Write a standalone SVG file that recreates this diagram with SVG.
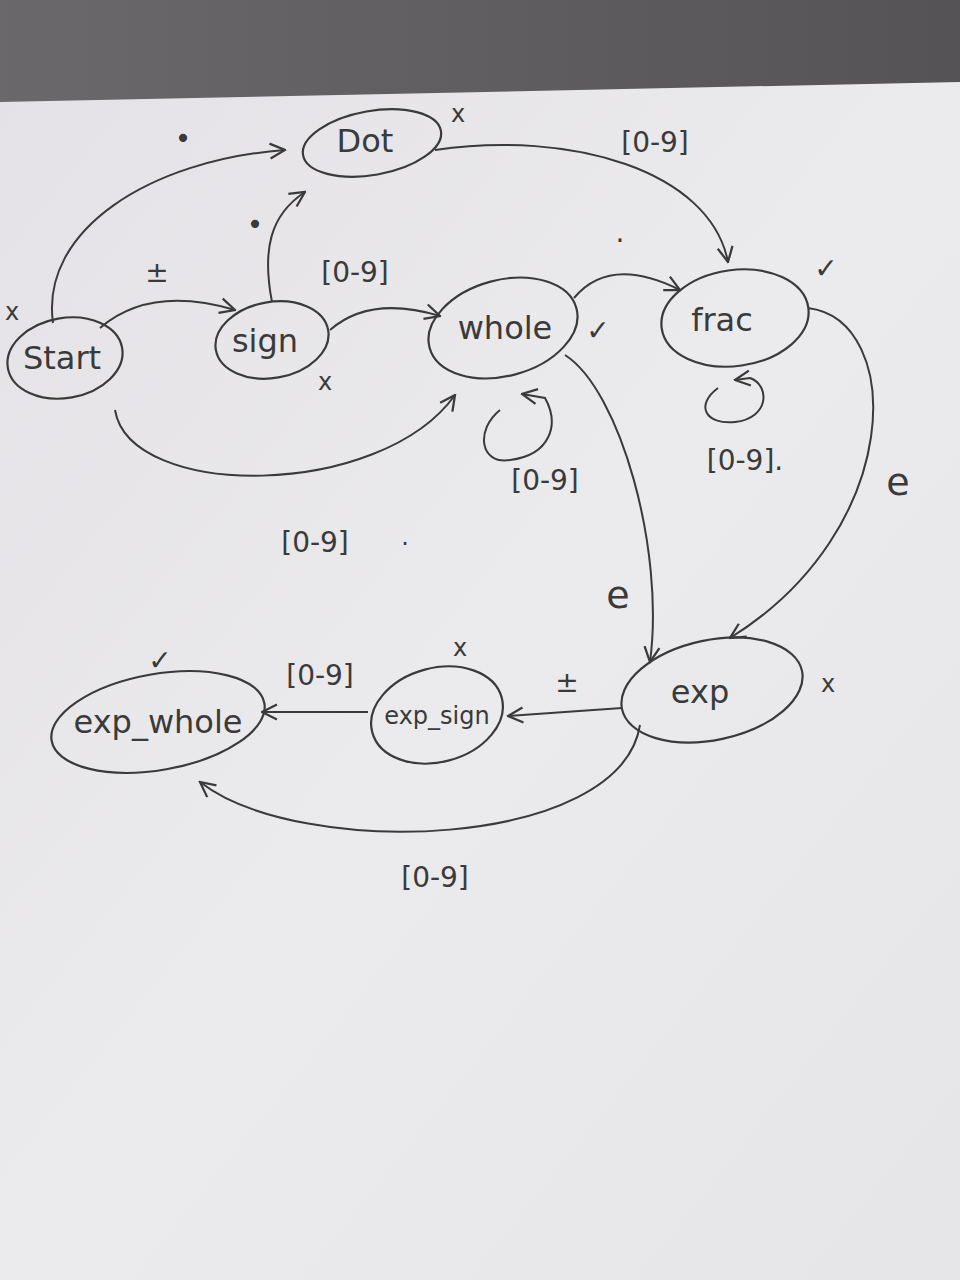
<svg xmlns="http://www.w3.org/2000/svg" width="960" height="1280" viewBox="0 0 960 1280">
<defs>
<linearGradient id="paper" x1="0" y1="0" x2="1" y2="1">
<stop offset="0" stop-color="#e4e2e6"/>
<stop offset="0.5" stop-color="#ebeaec"/>
<stop offset="1" stop-color="#e6e5e7"/>
</linearGradient>
<linearGradient id="top" x1="0" y1="0" x2="1" y2="0">
<stop offset="0" stop-color="#6a686a"/>
<stop offset="1" stop-color="#555355"/>
</linearGradient>
<marker id="arr" viewBox="0 0 12 12" refX="11" refY="6" markerWidth="18" markerHeight="18" markerUnits="userSpaceOnUse" orient="auto">
<path d="M1,1 L11,6 L1,11" fill="none" stroke="#3a3a3a" stroke-width="1.5"/>
</marker>
</defs>
<style>
.n{fill:none;stroke:#3a3a3a;stroke-width:2.2}
.e{fill:none;stroke:#3a3a3a;stroke-width:2;marker-end:url(#arr)}
.t{font-family:"DejaVu Sans",sans-serif;fill:#3a3a3a;text-anchor:middle}
.nl{font-size:32px}
.l{font-size:28px}
.m{font-size:24px}
.big{font-size:38px}
</style>
<rect width="960" height="1280" fill="url(#top)"/>
<polygon points="0,102 960,82 960,1280 0,1280" fill="url(#paper)"/>
<g id="connectors">
<path class="e" d="M53,323 C40,230 150,160 285,150"/>
<text class="t l" x="183" y="148">•</text>
<path class="e" d="M100,328 Q150,285 235,310"/>
<text class="t l" x="157" y="282">±</text>
<path class="e" d="M272,302 C262,250 270,215 305,192"/>
<text class="t l" x="255" y="234">•</text>
<path class="e" d="M330,330 Q370,295 440,316"/>
<text class="t l" x="355" y="282">[0-9]</text>
<path class="e" d="M115,410 C130,500 380,500 455,395"/>
<text class="t l" x="315" y="552">[0-9]</text>
<text class="t m" x="405" y="545">.</text>
<path class="e" d="M435,150 C570,130 710,170 728,262"/>
<text class="t l" x="655" y="152">[0-9]</text>
<path class="e" d="M574,298 Q610,255 680,290"/>
<text class="t l" x="620" y="242">.</text>
<path class="e" d="M500,410 C475,430 480,465 510,460 C550,455 560,425 545,398 L522,394"/>
<text class="t l" x="545" y="490">[0-9]</text>
<path class="e" d="M718,388 C695,405 705,425 735,422 C770,418 770,385 750,378 L735,380"/>
<text class="t l" x="745" y="470">[0-9].</text>
<path class="e" d="M565,355 C620,390 665,550 650,662"/>
<text class="t big" x="618" y="608">e</text>
<path class="e" d="M808,308 C905,320 905,530 730,638"/>
<text class="t big" x="898" y="495">e</text>
<path class="e" d="M622,708 L508,716"/>
<text class="t l" x="567" y="692">±</text>
<path class="e" d="M368,712 L262,712"/>
<text class="t l" x="320" y="685">[0-9]</text>
<path class="e" d="M640,725 C620,850 300,860 200,782"/>
<text class="t l" x="435" y="887">[0-9]</text>
</g>
<g id="start">
<ellipse class="n" cx="65" cy="358" rx="58" ry="40" transform="rotate(-10 65 358)"/>
<text class="t nl" x="62" y="369">Start</text>
<text class="t m" x="12" y="320">x</text>
</g>
<g id="sign">
<ellipse class="n" cx="272" cy="340" rx="57" ry="38" transform="rotate(-10 272 340)"/>
<text class="t nl" x="265" y="352">sign</text>
<text class="t m" x="325" y="390">x</text>
</g>
<g id="dot">
<ellipse class="n" cx="372" cy="143" rx="70" ry="32" transform="rotate(-10 372 143)"/>
<text class="t nl" x="365" y="152">Dot</text>
<text class="t m" x="458" y="122">x</text>
</g>
<g id="whole">
<ellipse class="n" cx="503" cy="328" rx="76" ry="48" transform="rotate(-15 503 328)"/>
<text class="t nl" x="505" y="339">whole</text>
<text class="t l" x="598" y="340">✓</text>
</g>
<g id="frac">
<ellipse class="n" cx="735" cy="318" rx="74" ry="48" transform="rotate(-8 735 318)"/>
<text class="t nl" x="722" y="331">frac</text>
<text class="t l" x="826" y="278">✓</text>
</g>
<g id="exp">
<ellipse class="n" cx="712" cy="690" rx="92" ry="50" transform="rotate(-12 712 690)"/>
<text class="t nl" x="700" y="703">exp</text>
<text class="t m" x="828" y="692">x</text>
</g>
<g id="exp_sign">
<ellipse class="n" cx="437" cy="715" rx="67" ry="47" transform="rotate(-15 437 715)"/>
<text class="t m" x="437" y="724">exp_sign</text>
<text class="t m" x="460" y="656">x</text>
</g>
<g id="exp_whole">
<ellipse class="n" cx="158" cy="722" rx="108" ry="48" transform="rotate(-10 158 722)"/>
<text class="t nl" x="158" y="733">exp_whole</text>
<text class="t l" x="160" y="670">✓</text>
</g>
</svg>
